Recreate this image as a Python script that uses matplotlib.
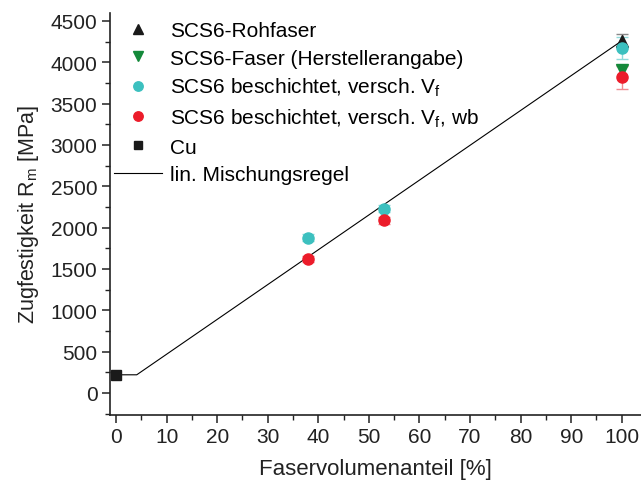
import matplotlib
matplotlib.use("Agg")
import matplotlib.pyplot as plt
from matplotlib.ticker import MultipleLocator

plt.rcParams["font.family"] = ["Liberation Sans", "DejaVu Sans"]
plt.rcParams["mathtext.fontset"] = "custom"
plt.rcParams["mathtext.rm"] = "Liberation Sans"

# Faservolumenanteil [%] und Zugfestigkeit [MPa]
raw_x = [100]
raw_y = [4260]
raw_err = [80]

spec_x = [100]
spec_y = [3910]

coat_x = [38, 53, 100]
coat_y = [1880, 2230, 4170]
coat_err = [40, 40, 130]

coat_wb_x = [38, 53, 100]
coat_wb_y = [1620, 2090, 3820]
coat_wb_err = [40, 40, 140]

cu_x = [0]
cu_y = [220]

rule_x = [0, 4.1, 100]
rule_y = [220, 220, 4260]

fig = plt.figure(figsize=(6.41, 4.89), dpi=100)
ax = fig.add_axes([0.1715, 0.1495, 0.8285, 0.8225])

h_rule, = ax.plot(rule_x, rule_y, color="black", lw=0.8, label="lin. Mischungsregel", zorder=2)

ax.errorbar(raw_x, raw_y, yerr=raw_err, fmt="none", ecolor="#888888", capsize=4, lw=1, zorder=3)
ax.errorbar(coat_x, coat_y, yerr=coat_err, fmt="none", ecolor="#8fdada", capsize=4, lw=1, zorder=3)
ax.errorbar(coat_wb_x, coat_wb_y, yerr=coat_wb_err, fmt="none", ecolor="#f08a90", capsize=4, lw=1, zorder=3)

h_raw, = ax.plot(raw_x, raw_y, "^", color="#1a1a1a", ms=8, ls="none", label="SCS6-Rohfaser", zorder=4)
h_spec, = ax.plot(spec_x, spec_y, "v", color="#14893a", ms=8, ls="none",
                  label="SCS6-Faser (Herstellerangabe)", zorder=4)
h_coat, = ax.plot(coat_x, coat_y, "o", color="#3cc0bf", ms=8, ls="none",
                  label=r"SCS6 beschichtet, versch. V$_\mathregular{f}$", zorder=4)
h_wb, = ax.plot(coat_wb_x, coat_wb_y, "o", color="#ec1c2a", ms=8, ls="none",
                label=r"SCS6 beschichtet, versch. V$_\mathregular{f}$, wb", zorder=4)
h_cu, = ax.plot(cu_x, cu_y, "s", color="#1a1a1a", ms=7, ls="none", label="Cu", zorder=4)

ax.set_xlim(-1.2, 103.8)
ax.set_ylim(-265, 4600)
ax.xaxis.set_major_locator(MultipleLocator(10))
ax.xaxis.set_minor_locator(MultipleLocator(5))
ax.yaxis.set_major_locator(MultipleLocator(500))
ax.yaxis.set_minor_locator(MultipleLocator(250))
ax.set_yticks(range(0, 4501, 500))

for side in ("top", "right"):
    ax.spines[side].set_visible(False)
for side in ("left", "bottom"):
    ax.spines[side].set_linewidth(1.2)
    ax.spines[side].set_color("#222222")

ax.tick_params(which="major", direction="out", length=6, width=1.1, labelsize=15,
               colors="#222222", pad=3)
ax.tick_params(which="minor", direction="out", length=3.5, width=1.0, colors="#222222")

ax.set_xlabel("Faservolumenanteil [%]", fontsize=16, color="#222222", labelpad=8)
ax.set_ylabel(r"Zugfestigkeit R$_\mathregular{m}$ [MPa]", fontsize=15.5, color="#222222",
              labelpad=7)

ax.legend(handles=[h_raw, h_spec, h_coat, h_wb, h_cu, h_rule], loc="upper left",
          bbox_to_anchor=(-0.015, 1.01), frameon=False, fontsize=15, handlelength=2.3,
          handletextpad=0.35, labelspacing=0.4, borderaxespad=0.2, markerscale=0.85)

fig.savefig("out.png", dpi=100)
